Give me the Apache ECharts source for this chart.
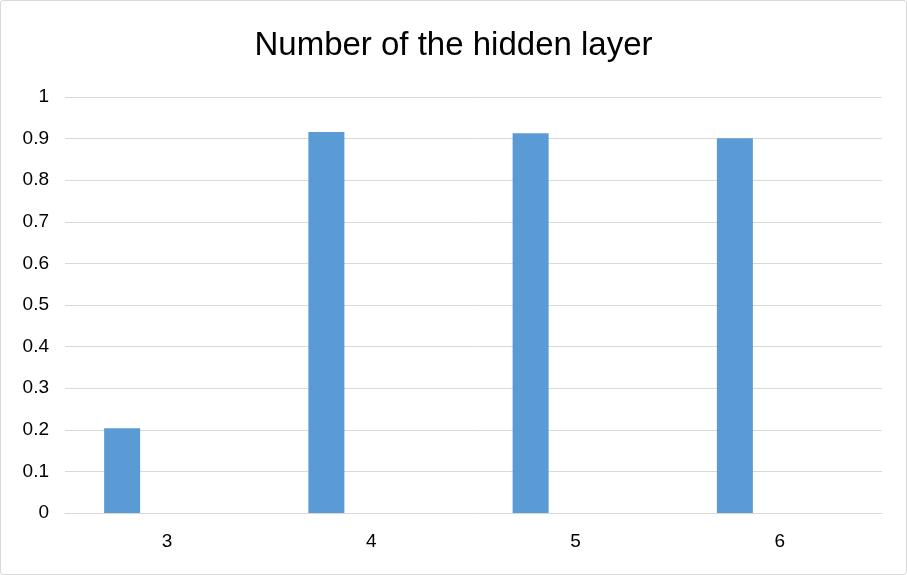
<!DOCTYPE html>
<html>
<head>
<meta charset="utf-8">
<script src="https://cdn.jsdelivr.net/npm/echarts@6/dist/echarts.min.js"></script>
<style>
  html, body { margin: 0; padding: 0; background: #ffffff; }
  #frame {
    position: absolute; left: 0; top: 0;
    width: 905px; height: 573px;
    border: 1px solid #d9d9d9; border-radius: 3px;
    background: #ffffff;
  }
  #chart { position: absolute; left: 0; top: 0; width: 907px; height: 575px; }
</style>
</head>
<body>
<div id="frame"></div>
<div id="chart"></div>
<script>
// Hidden-layer count vs. score
const chartTitle = 'Number of the hidden layer';
const categories = ['3', '4', '5', '6'];
const scores = [0.204, 0.916, 0.913, 0.901];
// Second (empty) series keeps the bars in the left slot of each category
const emptySlot = [null, null, null, null];

const chart = echarts.init(document.getElementById('chart'), null, { renderer: 'canvas' });
const font = 'Liberation Sans, Arial, sans-serif';

chart.setOption({
  animation: false,
  backgroundColor: 'transparent',
  title: {
    text: chartTitle,
    left: 'center',
    top: 24,
    textStyle: { fontFamily: font, fontSize: 33, fontWeight: 'normal', color: '#000000' }
  },
  grid: { left: 65, right: 25, top: 97, bottom: 62, containLabel: false },
  xAxis: {
    type: 'category',
    data: categories,
    axisLine: { show: true, lineStyle: { color: '#d9d9d9', width: 1 } },
    axisTick: { show: false },
    axisLabel: { fontFamily: font, fontSize: 19, color: '#000000', margin: 19 },
    splitLine: { show: false }
  },
  yAxis: {
    type: 'value',
    min: 0,
    max: 1,
    interval: 0.1,
    axisLine: { show: false },
    axisTick: { show: false },
    axisLabel: {
      fontFamily: font, fontSize: 19, color: '#000000', margin: 16,
      formatter: v => String(Math.round(v * 10) / 10)
    },
    splitLine: { show: true, lineStyle: { color: '#d9d9d9', width: 1 } }
  },
  series: [
    {
      name: 'score',
      type: 'bar',
      data: scores,
      barWidth: 36,
      barGap: '150%',
      itemStyle: { color: '#5b9bd5' }
    },
    {
      name: 'empty',
      type: 'bar',
      data: emptySlot,
      barWidth: 36,
      itemStyle: { color: '#ed7d31' }
    }
  ]
});
</script>
</body>
</html>
